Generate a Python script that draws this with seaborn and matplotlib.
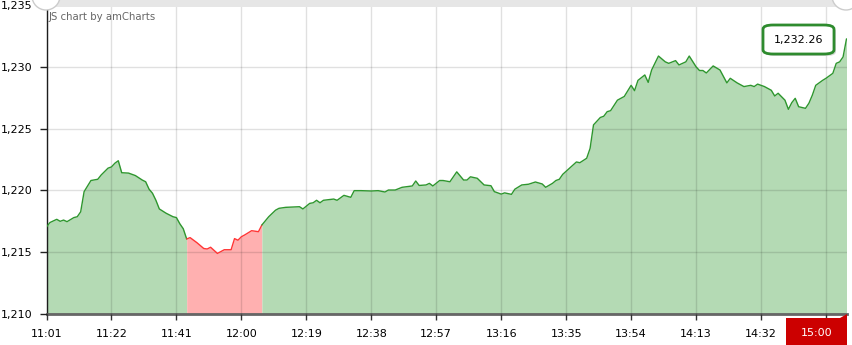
import numpy as np
import pandas as pd
import seaborn as sns
import matplotlib
matplotlib.use("Agg")
import matplotlib.pyplot as plt
from matplotlib.patches import Rectangle, FancyBboxPatch, Circle, Polygon

# ---- data (minutes after first point, price) ----
minutes = [0, 1, 3, 4, 5, 6, 8, 9, 10, 11, 13, 15, 16, 18, 19, 20, 21, 22, 24, 26,
           28, 29, 30, 31, 32, 33, 35, 37, 38, 39, 40, 41, 42, 44, 46, 47, 48, 50, 52, 54,
           55, 56, 57, 58, 60, 61, 62, 63, 65, 67, 68, 70, 74, 75, 77, 78, 79, 80, 81, 84,
           85, 87, 89, 90, 92, 95, 97, 99, 100, 102, 104, 107, 108, 109, 111, 112, 113, 115, 116, 118,
           120, 122, 123, 124, 126, 128, 130, 131, 133, 134, 136, 137, 139, 141, 143, 145, 146, 148, 149, 150,
           151, 153, 155, 156, 158, 159, 160, 162, 163, 164, 165, 167, 169, 171, 172, 173, 175, 176, 177, 179,
           181, 182, 184, 185, 187, 188, 190, 191, 192, 193, 195, 197, 199, 200, 202, 204, 206, 207, 208, 210,
           212, 213, 214, 216, 217, 218, 219, 220, 222, 223, 224, 225, 227, 228, 230, 231, 232, 233, 234]
prices = [1217.04, 1217.40, 1217.66, 1217.50, 1217.60, 1217.47, 1217.80, 1217.87, 1218.27, 1219.90,
          1220.80, 1220.90, 1221.25, 1221.80, 1221.90, 1222.20, 1222.40, 1221.43, 1221.40, 1221.20,
          1220.84, 1220.70, 1220.10, 1219.77, 1219.20, 1218.50, 1218.15, 1217.87, 1217.80, 1217.30,
          1216.90, 1216.07, 1216.18, 1215.77, 1215.30, 1215.26, 1215.40, 1214.90, 1215.20, 1215.20,
          1216.10, 1215.97, 1216.25, 1216.40, 1216.74, 1216.70, 1216.66, 1217.20, 1217.87, 1218.40,
          1218.55, 1218.63, 1218.68, 1218.50, 1218.95, 1219.00, 1219.20, 1219.00, 1219.20, 1219.30,
          1219.20, 1219.60, 1219.44, 1219.98, 1219.98, 1219.95, 1219.98, 1219.87, 1220.03, 1220.03,
          1220.25, 1220.36, 1220.76, 1220.40, 1220.44, 1220.57, 1220.36, 1220.80, 1220.80, 1220.70,
          1221.50, 1220.84, 1220.84, 1221.10, 1220.98, 1220.44, 1220.38, 1219.90, 1219.70, 1219.80,
          1219.68, 1220.10, 1220.44, 1220.50, 1220.68, 1220.52, 1220.25, 1220.57, 1220.80, 1220.90,
          1221.30, 1221.80, 1222.30, 1222.24, 1222.60, 1223.40, 1225.30, 1225.90, 1226.00, 1226.37,
          1226.45, 1227.30, 1227.60, 1228.50, 1228.07, 1228.90, 1229.34, 1228.74, 1229.74, 1230.87,
          1230.40, 1230.28, 1230.50, 1230.15, 1230.40, 1230.87, 1230.00, 1229.70, 1229.70, 1229.50,
          1230.07, 1229.74, 1228.70, 1229.07, 1228.70, 1228.40, 1228.50, 1228.40, 1228.60, 1228.40,
          1228.10, 1227.64, 1227.86, 1227.30, 1226.56, 1227.10, 1227.45, 1226.77, 1226.64, 1227.05,
          1227.70, 1228.50, 1228.90, 1229.07, 1229.47, 1230.28, 1230.40, 1230.80, 1232.26]
# visible tick labels; the last grid line (under the cursor balloon) has no visible label
tick_labels = ["11:01", "11:22", "11:41", "12:00", "12:19", "12:38", "12:57",
               "13:16", "13:35", "13:54", "14:13", "14:32", ""]
y_ticks = [1210, 1215, 1220, 1225, 1230, 1235]
negative_base = 1216.8
last_label = "15:00"
value_label = "1,232.26"
watermark = "JS chart by amCharts"

df = pd.DataFrame({"minute": minutes, "price": prices})

sns.set_style("white")
plt.rcParams["font.family"] = ["DejaVu Sans"]

W, H = 852, 345
fig = plt.figure(figsize=(W / 100, H / 100), dpi=100)
ax = fig.add_axes([46.5 / W, 31 / H, 800 / W, 309 / H])

GREEN_LINE = "#2E962E"
GREEN_FILL = "#B4DAB4"
RED_LINE = "#FF3535"
RED_FILL = "#FFB0B0"

# runs: segment i -> i+1 coloured by point i
neg = (df["price"] < negative_base).to_numpy()
n = len(df)
runs = []
start = 0
for i in range(1, n - 1):
    if neg[i] != neg[start]:
        runs.append((start, i, neg[start]))
        start = i
runs.append((start, n - 1, neg[start]))

for a, b, is_neg in runs:
    sub = df.iloc[a:b + 1]
    ax.fill_between(sub["minute"], sub["price"], 1210,
                    color=RED_FILL if is_neg else GREEN_FILL, lw=0, zorder=1)
    sns.lineplot(data=sub, x="minute", y="price", ax=ax,
                 color=RED_LINE if is_neg else GREEN_LINE, lw=1.0, zorder=3)

ax.set_xlim(0, 234)
ax.set_ylim(1210, 1235)
xt = [19 * i for i in range(len(tick_labels))]
ax.set_xticks(xt)
ax.set_xticklabels(tick_labels)
ax.set_yticks(y_ticks)
ax.set_yticklabels([f"{v:,}" for v in y_ticks])
ax.set_xlabel("")
ax.set_ylabel("")
ax.grid(True, color="#000000", alpha=0.12, lw=1, zorder=2)
ax.set_axisbelow(False)
for s in ["top", "right"]:
    ax.spines[s].set_visible(False)
ax.spines["left"].set_color("#222222")
ax.spines["left"].set_linewidth(1.0)
ax.spines["bottom"].set_color("#666666")
ax.spines["bottom"].set_linewidth(2.0)
ax.tick_params(axis="y", length=5, width=1, color="#222222", labelsize=8,
               labelcolor="#000000", pad=5, left=True)
ax.tick_params(axis="x", length=4, width=1, color="#333333", labelsize=8,
               labelcolor="#000000", pad=7, bottom=True)

# watermark
fig.text(49 / W, 1 - 17 / H, watermark, fontsize=7.3, color="#666666",
         ha="left", va="center")

# top scrollbar band and grips
fig.patches.append(Rectangle((46 / W, 1 - 7 / H), 802 / W, 7 / H,
                             transform=fig.transFigure, facecolor="#E6E6E6",
                             edgecolor="none", zorder=5))
for cx in (46, 846):
    fig.patches.append(Circle((cx, H + 4), 14, transform=None,
                              facecolor="white", edgecolor="#CCCCCC", lw=1, zorder=6))

# value balloon
bx0, by0, bw, bh = 763, 25, 71, 29
fig.patches.append(FancyBboxPatch(((bx0 + 2) / W, 1 - (by0 + bh + 2) / H), bw / W, bh / H,
                                  boxstyle="round,pad=0,rounding_size=0.012",
                                  transform=fig.transFigure, facecolor="#D8D8D8",
                                  edgecolor="none", zorder=7))
fig.patches.append(FancyBboxPatch((bx0 / W, 1 - (by0 + bh) / H), bw / W, bh / H,
                                  boxstyle="round,pad=0,rounding_size=0.012",
                                  transform=fig.transFigure, facecolor="white",
                                  edgecolor="#2E8B2E", lw=2, zorder=8))
fig.text((bx0 + bw / 2) / W, 1 - (by0 + bh / 2) / H, value_label, fontsize=8,
         color="#000000", ha="center", va="center", zorder=9)

# category balloon at bottom right
fig.patches.append(Rectangle((786 / W, 0), 61 / W, 27 / H, transform=fig.transFigure,
                             facecolor="#CC0000", edgecolor="none", zorder=7))
fig.patches.append(Polygon([(840 / W, 27 / H), (847 / W, 27 / H), (847 / W, 31 / H)],
                           closed=True, transform=fig.transFigure,
                           facecolor="#CC0000", edgecolor="none", zorder=7))
fig.text(816.5 / W, 12.5 / H, last_label, fontsize=8, color="white",
         ha="center", va="center", zorder=8)

fig.savefig("out.png", dpi=100)
